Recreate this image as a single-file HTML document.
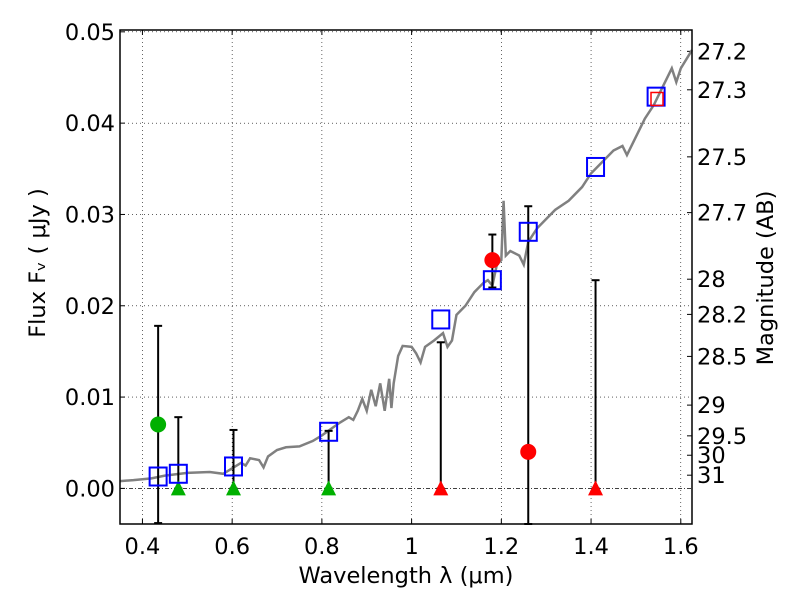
<!DOCTYPE html>
<html><head><meta charset="utf-8"><style>
body{margin:0;background:#fff}
text{font-family:"DejaVu Sans","Liberation Sans",sans-serif;fill:#000}
</style></head><body>
<svg id="c" width="800" height="600" xmlns="http://www.w3.org/2000/svg"></svg>
<script>
const specX=[0.35,0.38,0.40,0.42,0.45,0.5,0.55,0.58,0.6,0.62,0.63,0.64,0.66,0.67,0.68,0.7,0.72,0.75,0.78,0.8,0.82,0.84,0.86,0.87,0.88,0.89,0.9,0.91,0.92,0.93,0.94,0.95,0.955,0.96,0.97,0.98,1.0,1.01,1.02,1.03,1.05,1.07,1.08,1.09,1.1,1.12,1.14,1.16,1.17,1.18,1.19,1.2,1.205,1.21,1.22,1.24,1.25,1.26,1.28,1.3,1.32,1.35,1.38,1.4,1.42,1.45,1.47,1.48,1.5,1.52,1.54,1.56,1.58,1.59,1.6,1.625];
const specY=[0.0008,0.0009,0.001,0.0011,0.0014,0.0017,0.0018,0.0016,0.0022,0.0028,0.0025,0.0033,0.0031,0.0023,0.0035,0.0042,0.0045,0.0046,0.0052,0.0058,0.0065,0.0072,0.0078,0.0075,0.0085,0.0098,0.0085,0.0108,0.009,0.0115,0.0085,0.012,0.0088,0.0115,0.0145,0.0156,0.0155,0.0148,0.0138,0.0155,0.0162,0.017,0.0155,0.0162,0.019,0.02,0.0215,0.0225,0.0228,0.0222,0.0245,0.025,0.0315,0.0255,0.026,0.0255,0.0245,0.027,0.0285,0.0295,0.0305,0.0315,0.033,0.0345,0.0355,0.037,0.0375,0.0365,0.0385,0.0405,0.042,0.044,0.046,0.0445,0.046,0.048];
const sqX=[0.435,0.48,0.603,0.815,1.065,1.18,1.26,1.41,1.545];
const sqY=[0.0013,0.0016,0.0024,0.0062,0.0185,0.0228,0.0281,0.0352,0.0429];
const gcX=[0.435], gcY=[0.007], gcLo=[-0.0038], gcHi=[0.0178];
const gtX=[0.48,0.603,0.815], gtHi=[0.0078,0.0064,0.0063];
const rtX=[1.065,1.41], rtHi=[0.016,0.0228];
const rcX=[1.18,1.26], rcY=[0.025,0.004], rcLo=[0.022,-0.0039], rcHi=[0.0278,0.0309];
const rsX=[1.547], rsY=[0.0427];
const xTicks=[0.4,0.6,0.8,1,1.2,1.4,1.6], xLabels=["0.4","0.6","0.8","1","1.2","1.4","1.6"];
const yTicks=[0,0.01,0.02,0.03,0.04,0.05], yLabels=["0.00","0.01","0.02","0.03","0.04","0.05"];
const magTicks=[27.2,27.3,27.5,27.7,28,28.2,28.5,29,29.5,30,31];

const L=120,R=692,T=30,B=524,X0=0.35,X1=1.625,Y0=-0.0039,Y1=0.0502,FS=22.5;
const sx=v=>L+(v-X0)/(X1-X0)*(R-L), sy=v=>B-(v-Y0)/(Y1-Y0)*(B-T);
const svg=document.getElementById('c'),NS='http://www.w3.org/2000/svg';
function mk(t,a,txt){const e=document.createElementNS(NS,t);for(const k in a)e.setAttribute(k,a[k]);if(txt!==undefined)e.textContent=txt;svg.appendChild(e);return e;}
xTicks.forEach((t,i)=>{const x=sx(t);
 let g=mk('line',{x1:x,x2:x,y1:T,y2:B,stroke:'#000','stroke-width':0.6,'stroke-dasharray':'1,3'});
 
 mk('line',{x1:x,x2:x,y1:B,y2:B-5,stroke:'#000'});mk('line',{x1:x,x2:x,y1:T,y2:T+5,stroke:'#000'});
 let l=mk('text',{x:x,y:B+30,'text-anchor':'middle','font-size':FS},xLabels[i]);
 });
yTicks.forEach((t,i)=>{const y=sy(t);
 if(t!==0){let g=mk('line',{x1:L,x2:R,y1:y,y2:y,stroke:'#000','stroke-width':0.6,'stroke-dasharray':'1,3'});
 }
 mk('line',{x1:L,x2:L+5,y1:y,y2:y,stroke:'#000'});
 let l=mk('text',{x:L-5,y:y+8,'text-anchor':'end','font-size':FS},yLabels[i]);
 });
magTicks.forEach(m=>{const y=sy(Math.pow(10,(23.9-m)/2.5));
 mk('line',{x1:R,x2:R-5,y1:y,y2:y,stroke:'#000'});
 let l=mk('text',{x:R+5,y:y+8,'font-size':FS},String(m));
 });
let z=mk('line',{x1:L,x2:R,y1:sy(0),y2:sy(0),stroke:'#000','stroke-width':0.7,'stroke-dasharray':'4,2,1,2'});

let p=mk('polyline',{points:specX.map((x,i)=>sx(x)+','+sy(specY[i])).join(' '),fill:'none',stroke:'#808080','stroke-width':2.5});

function eb(x,lo,hi){const X=sx(x);mk('line',{x1:X,x2:X,y1:sy(lo),y2:sy(hi),stroke:'#000','stroke-width':2});
 mk('line',{x1:X-4,x2:X+4,y1:sy(hi),y2:sy(hi),stroke:'#000','stroke-width':2});
 mk('line',{x1:X-4,x2:X+4,y1:sy(lo),y2:sy(lo),stroke:'#000','stroke-width':2});}
gcX.forEach((x,i)=>eb(x,gcLo[i],gcHi[i]));
gtX.forEach((x,i)=>eb(x,0,gtHi[i]));
rtX.forEach((x,i)=>eb(x,0,rtHi[i]));
rcX.forEach((x,i)=>eb(x,rcLo[i],rcHi[i]));
function tri(x,c){const X=sx(x),Y=sy(0);let t=mk('polygon',{points:`${X-7.5},${Y+7} ${X+7.5},${Y+7} ${X},${Y-8}`,fill:c});
 }
gtX.forEach(x=>tri(x,'#00b000'));rtX.forEach(x=>tri(x,'#ff0000'));
gcX.forEach((x,i)=>{let c=mk('circle',{cx:sx(x),cy:sy(gcY[i]),r:8,fill:'#00b000'});
 });
rcX.forEach((x,i)=>{let c=mk('circle',{cx:sx(x),cy:sy(rcY[i]),r:8,fill:'#ff0000'});
 });
sqX.forEach((x,i)=>{let s=mk('rect',{x:sx(x)-8.5,y:sy(sqY[i])-9,width:17,height:18,fill:'none',stroke:'#0000ff','stroke-width':2});
 });
rsX.forEach((x,i)=>{let s=mk('rect',{x:sx(x)-6,y:sy(rsY[i])-6,width:12,height:13,fill:'none',stroke:'#ff0000','stroke-width':1.5});
 });
let fr=mk('rect',{x:L,y:T,width:R-L,height:B-T,fill:'none',stroke:'#000','stroke-width':1.5});

let xt=mk('text',{x:406,y:583,'text-anchor':'middle','font-size':FS},'Wavelength  λ (μm)');

let yt=mk('text',{transform:'translate(45,263) rotate(-90)','text-anchor':'middle','font-size':FS},'Flux  Fᵥ  ( μJy )');

let mt=mk('text',{transform:'translate(773,278) rotate(-90)','text-anchor':'middle','font-size':FS},'Magnitude (AB)');

</script>
</body></html>
